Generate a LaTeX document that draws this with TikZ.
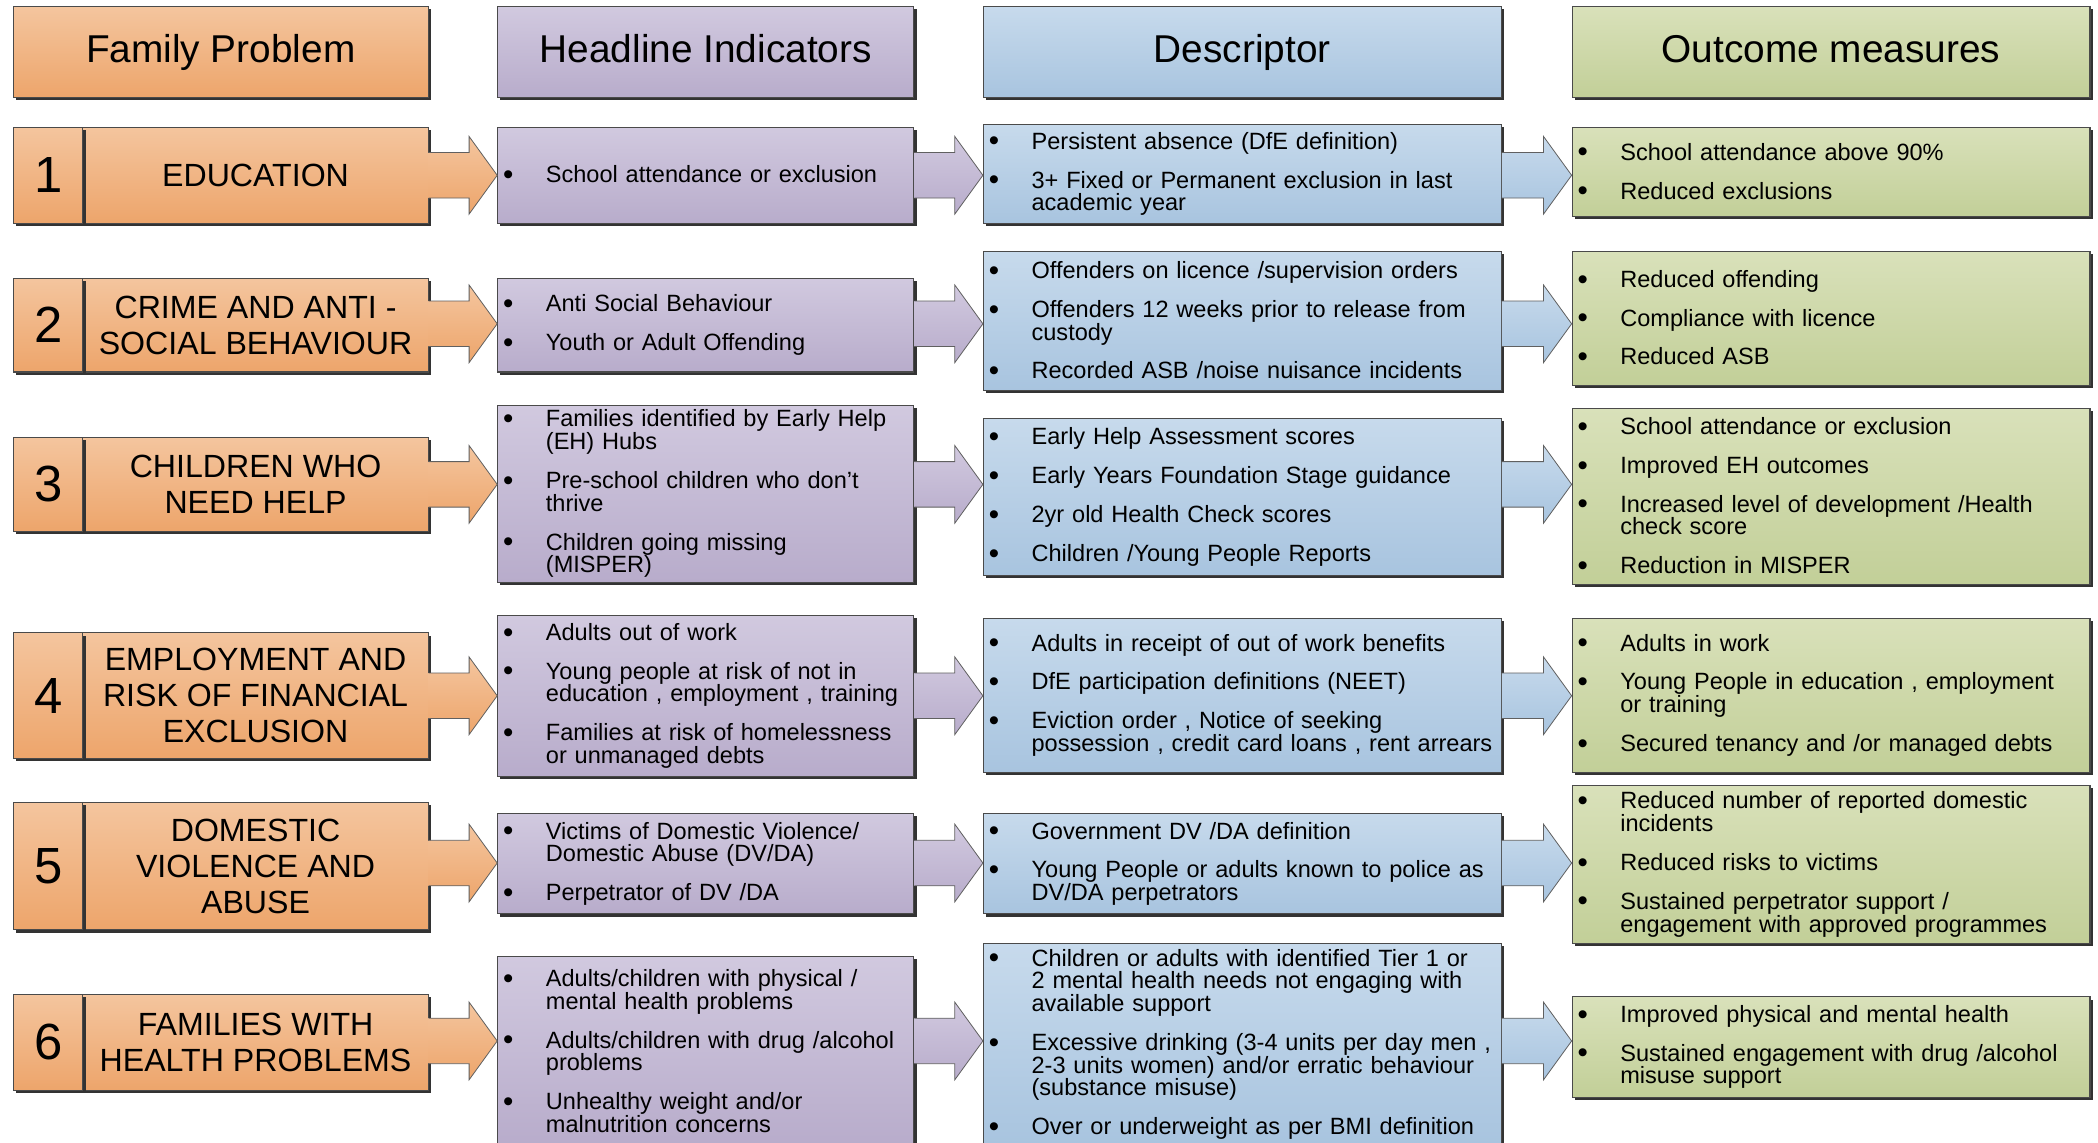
\documentclass[tikz,border=0pt]{standalone}
\usepackage{fontspec}
\setmainfont{Liberation Sans}
\usetikzlibrary{shadows,calc}

\definecolor{orT}{HTML}{F4C59E}
\definecolor{orB}{HTML}{EDA56B}
\definecolor{puT}{HTML}{D1C9DF}
\definecolor{puB}{HTML}{B8ACCB}
\definecolor{blT}{HTML}{C7DAEC}
\definecolor{blB}{HTML}{A8C4DF}
\definecolor{grT}{HTML}{D9E1BA}
\definecolor{grB}{HTML}{C2CF98}
\definecolor{edgec}{HTML}{4A4A4A}

\tikzset{
  basebox/.style={draw=edgec, line width=0.8pt, inner xsep=4pt, inner ysep=0pt,
    drop shadow={shadow xshift=2pt, shadow yshift=-2pt, fill=black!80, opacity=1}},
  orbox/.style={basebox, top color=orT, bottom color=orB},
  pubox/.style={basebox, top color=puT, bottom color=puB},
  blbox/.style={basebox, top color=blT, bottom color=blB},
  grbox/.style={basebox, top color=grT, bottom color=grB},
  headtxt/.style={font=\fontsize{29}{30}\selectfont, align=center, text height=21pt, text depth=6pt},
  labtxt/.style={font=\fontsize{24}{27}\selectfont, align=center},
  numtxt/.style={font=\fontsize{38}{40}\selectfont},
  lsttxt/.style={font=\fontsize{17.6}{17}\selectfont, align=left},
  blockarrow/.style={draw=gray!75!black, line width=0.6pt},
}

% box with fixed text width (lists)
\newcommand\BX[7]{%
  \pgfmathsetmacro\bw{#5-#3}\pgfmathsetmacro\bh{#6-#4}\pgfmathsetmacro\tw{#5-#3-8}%
  \node[#2, minimum width=\bw pt, minimum height=\bh pt, text width=\tw pt] (#1)
    at ({(#3+#5)/2},{(#4+#6)/2}) {\lineskiplimit=-8pt\relax #7};}
% box with centred free text
\newcommand\LB[7]{%
  \pgfmathsetmacro\bw{#5-#3}\pgfmathsetmacro\bh{#6-#4}%
  \node[#2, minimum width=\bw pt, minimum height=\bh pt] (#1)
    at ({(#3+#5)/2},{(#4+#6)/2}) {#7};}
% block arrow from node #1 to node #2 at height #3, colour prefix #4
\newcommand\BA[4]{%
  \coordinate (#1-s) at (#1.east |- 0,#3);
  \coordinate (#1-t) at (#2.west |- 0,#3);
  \draw[blockarrow, top color=#4T, bottom color=#4B]
    ($(#1-s)+(0,-17)$) -- ($(#1-t)+(-21,-17)$) -- ($(#1-t)+(-21,-29)$) -- (#1-t)
    -- ($(#1-t)+(-21,29)$) -- ($(#1-t)+(-21,17)$) -- ($(#1-s)+(0,17)$);}

\newcommand\bu{\leavevmode\hbox to 32pt{\raisebox{-1.3pt}{\fontsize{22}{17}\selectfont\textbullet}\hfil}}
\newcommand\ind{\leavevmode\hspace*{32pt}}
\newcommand\gap{\\[12pt]}

\begin{document}
\begin{tikzpicture}[x=1pt, y=-1pt]
\useasboundingbox (0,0) rectangle (1568,854);
\clip (0,0) rectangle (1568,854);
\fill[white] (0,0) rectangle (1568,854);

% headers
\LB{H1}{orbox, headtxt}{10}{5}{320}{73}{Family Problem}
\LB{H2}{pubox, headtxt}{372}{5}{683}{73}{Headline Indicators}
\LB{H3}{blbox, headtxt}{735}{5}{1122}{73}{Descriptor}
\LB{H4}{grbox, headtxt}{1175}{5}{1562}{73}{Outcome measures}

% ---------- row 1
\LB{p1}{orbox, labtxt}{62}{95}{320}{167}{EDUCATION}
\LB{n1}{orbox, numtxt}{10}{95}{62}{167}{1}
\BX{h1}{pubox, lsttxt}{372}{95}{683}{167}{\bu School attendance or exclusion}
\BX{d1}{blbox, lsttxt}{735}{93}{1122}{167}{\bu Persistent absence  (DfE definition)\gap
\bu 3+ Fixed or Permanent exclusion in last\\\ind academic  year}
\BX{o1}{grbox, lsttxt}{1175}{95}{1562}{162}{\bu School attendance above  90\%\gap
\bu Reduced exclusions}

% ---------- row 2
\LB{p2}{orbox, labtxt}{62}{208}{320}{278}{CRIME AND ANTI -\\SOCIAL BEHAVIOUR}
\LB{n2}{orbox, numtxt}{10}{208}{62}{278}{2}
\BX{h2}{pubox, lsttxt}{372}{208}{683}{278}{\bu Anti Social Behaviour\gap
\bu Youth or Adult Offending}
\BX{d2}{blbox, lsttxt}{735}{188}{1122}{292}{\bu Offenders on licence /supervision orders\gap
\bu Offenders  12 weeks prior to release from\\\ind custody\gap
\bu Recorded ASB /noise nuisance incidents}
\BX{o2}{grbox, lsttxt}{1175}{188}{1562}{288}{\bu Reduced offending\gap
\bu Compliance with licence\gap
\bu Reduced ASB}

% ---------- row 3
\LB{p3}{orbox, labtxt}{62}{327}{320}{397}{CHILDREN WHO\\NEED HELP}
\LB{n3}{orbox, numtxt}{10}{327}{62}{397}{3}
\BX{h3}{pubox, lsttxt}{372}{303}{683}{435}{\bu Families identified by Early Help\\\ind (EH) Hubs\gap
\bu Pre-school children who don’t\\\ind thrive\gap
\bu Children going missing\\\ind (MISPER)}
\BX{d3}{blbox, lsttxt}{735}{313}{1122}{430}{\bu Early Help Assessment scores\gap
\bu Early Years Foundation Stage guidance\gap
\bu 2yr old Health Check scores\gap
\bu Children /Young People Reports}
\BX{o3}{grbox, lsttxt}{1175}{305}{1562}{437}{\bu School attendance or exclusion\gap
\bu Improved EH outcomes\gap
\bu Increased level of development /Health\\\ind check score\gap
\bu Reduction in MISPER}

% ---------- row 4
\LB{p4}{orbox, labtxt}{62}{473}{320}{567}{EMPLOYMENT AND\\RISK OF FINANCIAL\\EXCLUSION}
\LB{n4}{orbox, numtxt}{10}{473}{62}{567}{4}
\BX{h4}{pubox, lsttxt}{372}{460}{683}{580}{\bu Adults out of work\gap
\bu Young people at risk of not in\\\ind education , employment , training\gap
\bu Families at risk of homelessness\\\ind or unmanaged debts}
\BX{d4}{blbox, lsttxt}{735}{462}{1122}{577}{\bu Adults in receipt of out of work benefits\gap
\bu DfE participation definitions  (NEET)\gap
\bu Eviction order , Notice of seeking\\\ind possession , credit card loans , rent arrears}
\BX{o4}{grbox, lsttxt}{1175}{462}{1562}{577}{\bu Adults in work\gap
\bu Young People in education  , employment\\\ind or training\gap
\bu Secured tenancy and /or managed debts}

% ---------- row 5
\LB{p5}{orbox, labtxt}{62}{600}{320}{695}{DOMESTIC\\VIOLENCE AND\\ABUSE}
\LB{n5}{orbox, numtxt}{10}{600}{62}{695}{5}
\BX{h5}{pubox, lsttxt}{372}{608}{683}{683}{\bu Victims of Domestic Violence/\\\ind Domestic Abuse (DV/DA)\gap
\bu Perpetrator of DV /DA}
\BX{d5}{blbox, lsttxt}{735}{608}{1122}{683}{\bu Government DV /DA definition\gap
\bu Young People or adults known to police as\\\ind DV/DA perpetrators}
\BX{o5}{grbox, lsttxt}{1175}{587}{1562}{705}{\bu Reduced number of reported domestic\\\ind incidents\gap
\bu Reduced risks to victims\gap
\bu Sustained perpetrator support  /\\\ind engagement with approved programmes}

% ---------- row 6
\LB{p6}{orbox, labtxt}{62}{743}{320}{815}{FAMILIES WITH\\HEALTH PROBLEMS}
\LB{n6}{orbox, numtxt}{10}{743}{62}{815}{6}
\BX{h6}{pubox, lsttxt}{372}{715}{683}{856}{\bu Adults/children with physical /\\\ind mental health problems\gap
\bu Adults/children with drug /alcohol\\\ind problems\gap
\bu Unhealthy weight and/or\\\ind malnutrition concerns}
\BX{d6}{blbox, lsttxt}{735}{705}{1122}{856}{\bu Children or adults with identified  Tier  1 or\\\ind 2 mental health needs not engaging with\\\ind available support\gap
\bu Excessive drinking (3-4 units per day men ,\\\ind 2-3 units women) and/or erratic behaviour\\\ind (substance misuse)\gap
\bu Over or underweight as per BMI definition}
\BX{o6}{grbox, lsttxt}{1175}{745}{1562}{820}{\bu Improved physical and mental health\gap
\bu Sustained engagement with drug /alcohol\\\ind misuse  support}

% ---------- arrows
\BA{p1}{h1}{131}{or} \BA{h1}{d1}{131}{pu} \BA{d1}{o1}{131}{bl}
\BA{p2}{h2}{242}{or} \BA{h2}{d2}{242}{pu} \BA{d2}{o2}{242}{bl}
\BA{p3}{h3}{362}{or} \BA{h3}{d3}{362}{pu} \BA{d3}{o3}{362}{bl}
\BA{p4}{h4}{520}{or} \BA{h4}{d4}{520}{pu} \BA{d4}{o4}{520}{bl}
\BA{p5}{h5}{645}{or} \BA{h5}{d5}{645}{pu} \BA{d5}{o5}{645}{bl}
\BA{p6}{h6}{778}{or} \BA{h6}{d6}{778}{pu} \BA{d6}{o6}{778}{bl}
\end{tikzpicture}
\end{document}
